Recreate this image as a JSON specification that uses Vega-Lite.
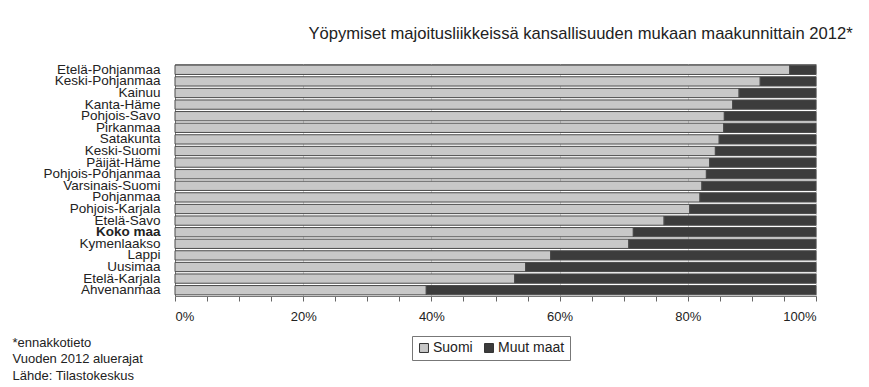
{
  "$schema": "https://vega.github.io/schema/vega-lite/v6.json",
  "autosize": "none",
  "width": 641,
  "height": 232,
  "padding": {"left": 175, "top": 64, "right": 53, "bottom": 91},
  "background": "white",
  "title": {
    "text": "Yöpymiset majoitusliikkeissä kansallisuuden mukaan maakunnittain 2012*",
    "anchor": "middle",
    "frame": "group",
    "dx": 85,
    "offset": 20,
    "font": "Liberation Sans",
    "fontSize": 16.6,
    "fontWeight": "normal",
    "color": "#222"
  },
  "data": {
    "values": [
      {"region": "Etelä-Pohjanmaa", "series": "Suomi", "share": 0.959},
      {"region": "Etelä-Pohjanmaa", "series": "Muut maat", "share": 0.041},
      {"region": "Keski-Pohjanmaa", "series": "Suomi", "share": 0.913},
      {"region": "Keski-Pohjanmaa", "series": "Muut maat", "share": 0.087},
      {"region": "Kainuu", "series": "Suomi", "share": 0.880},
      {"region": "Kainuu", "series": "Muut maat", "share": 0.120},
      {"region": "Kanta-Häme", "series": "Suomi", "share": 0.870},
      {"region": "Kanta-Häme", "series": "Muut maat", "share": 0.130},
      {"region": "Pohjois-Savo", "series": "Suomi", "share": 0.857},
      {"region": "Pohjois-Savo", "series": "Muut maat", "share": 0.143},
      {"region": "Pirkanmaa", "series": "Suomi", "share": 0.856},
      {"region": "Pirkanmaa", "series": "Muut maat", "share": 0.144},
      {"region": "Satakunta", "series": "Suomi", "share": 0.849},
      {"region": "Satakunta", "series": "Muut maat", "share": 0.151},
      {"region": "Keski-Suomi", "series": "Suomi", "share": 0.843},
      {"region": "Keski-Suomi", "series": "Muut maat", "share": 0.157},
      {"region": "Päijät-Häme", "series": "Suomi", "share": 0.834},
      {"region": "Päijät-Häme", "series": "Muut maat", "share": 0.166},
      {"region": "Pohjois-Pohjanmaa", "series": "Suomi", "share": 0.829},
      {"region": "Pohjois-Pohjanmaa", "series": "Muut maat", "share": 0.171},
      {"region": "Varsinais-Suomi", "series": "Suomi", "share": 0.822},
      {"region": "Varsinais-Suomi", "series": "Muut maat", "share": 0.178},
      {"region": "Pohjanmaa", "series": "Suomi", "share": 0.819},
      {"region": "Pohjanmaa", "series": "Muut maat", "share": 0.181},
      {"region": "Pohjois-Karjala", "series": "Suomi", "share": 0.803},
      {"region": "Pohjois-Karjala", "series": "Muut maat", "share": 0.197},
      {"region": "Etelä-Savo", "series": "Suomi", "share": 0.763},
      {"region": "Etelä-Savo", "series": "Muut maat", "share": 0.237},
      {"region": "Koko maa", "series": "Suomi", "share": 0.715},
      {"region": "Koko maa", "series": "Muut maat", "share": 0.285},
      {"region": "Kymenlaakso", "series": "Suomi", "share": 0.708},
      {"region": "Kymenlaakso", "series": "Muut maat", "share": 0.292},
      {"region": "Lappi", "series": "Suomi", "share": 0.586},
      {"region": "Lappi", "series": "Muut maat", "share": 0.414},
      {"region": "Uusimaa", "series": "Suomi", "share": 0.547},
      {"region": "Uusimaa", "series": "Muut maat", "share": 0.453},
      {"region": "Etelä-Karjala", "series": "Suomi", "share": 0.530},
      {"region": "Etelä-Karjala", "series": "Muut maat", "share": 0.470},
      {"region": "Ahvenanmaa", "series": "Suomi", "share": 0.392},
      {"region": "Ahvenanmaa", "series": "Muut maat", "share": 0.608}
    ]
  },
  "mark": {"type": "bar", "stroke": "#4a4a4a", "strokeWidth": 1},
  "encoding": {
    "y": {
      "field": "region",
      "type": "nominal",
      "sort": null,
      "scale": {"paddingInner": 0.2, "paddingOuter": 0.1},
      "axis": {
        "title": ["*ennakkotieto", "Vuoden 2012 aluerajat", "Lähde: Tilastokeskus"],
        "titleAngle": 0,
        "titleX": -163,
        "titleY": 272,
        "titleAlign": "left",
        "titleBaseline": "top",
        "titleFont": "Liberation Sans",
        "titleFontSize": 13,
        "titleFontWeight": "normal",
        "titleColor": "#222",
        "titleLineHeight": 16.5,
        "ticks": false,
        "domain": true,
        "domainColor": "#777",
        "labelPadding": 15,
        "labelFont": "Liberation Sans",
        "labelFontSize": 13.5,
        "labelColor": "#222",
        "labelFontWeight": {"condition": {"test": "datum.value == 'Koko maa'", "value": "bold"}, "value": "normal"},
        "labelLimit": 200
      }
    },
    "x": {
      "field": "share",
      "type": "quantitative",
      "stack": "zero",
      "scale": {"domain": [0, 1], "nice": false},
      "axis": {
        "title": null,
        "values": [0, 0.05, 0.1, 0.15, 0.2, 0.25, 0.3, 0.35, 0.4, 0.45, 0.5, 0.55, 0.6, 0.65, 0.7, 0.75, 0.8, 0.85, 0.9, 0.95, 1],
        "format": ".0%",
        "labelExpr": "round(datum.value * 100) % 20 == 0 ? datum.label : ''",
        "labelFont": "Liberation Sans",
        "labelFontSize": 13,
        "labelColor": "#222",
        "labelPadding": 9,
        "tickSize": 5,
        "tickColor": "#666",
        "domainColor": "#777",
        "grid": true,
        "gridColor": "#cfcfcf",
        "gridOpacity": {"condition": {"test": "round(datum.value * 100) % 20 == 0", "value": 1}, "value": 0}
      }
    },
    "color": {
      "field": "series",
      "type": "nominal",
      "scale": {"domain": ["Suomi", "Muut maat"], "range": ["#c8c8c8", "#3c3c3c"]},
      "legend": {
        "title": null,
        "orient": "none",
        "direction": "horizontal",
        "legendX": 237,
        "legendY": 272,
        "symbolType": "square",
        "symbolSize": 80,
        "symbolStrokeColor": "#333",
        "symbolStrokeWidth": 1,
        "labelFont": "Liberation Sans",
        "labelFontSize": 14,
        "labelColor": "#222",
        "labelOffset": 2,
        "columnPadding": 9,
        "padding": 5,
        "strokeColor": "#777",
        "fillColor": "white"
      }
    },
    "order": {"field": "series", "sort": "descending"}
  },
  "config": {
    "view": {"stroke": "#888", "strokeWidth": 1}
  }
}
